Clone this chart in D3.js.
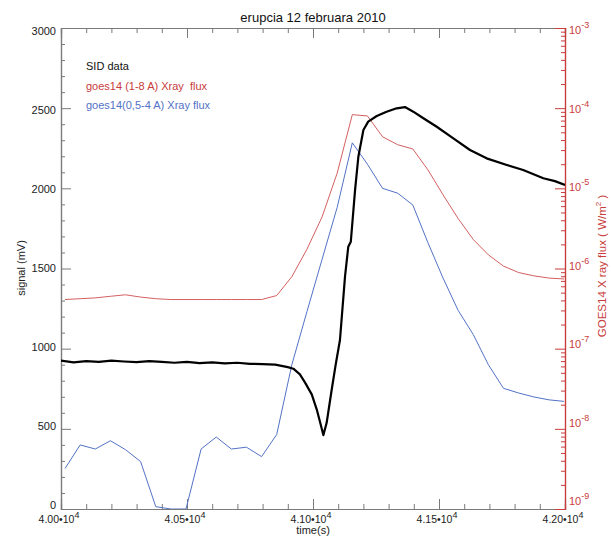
<!DOCTYPE html>
<html><head><meta charset="utf-8">
<script src="https://cdn.jsdelivr.net/npm/d3@7"></script>
<style>body{margin:0;background:#fff} text{font-family:"Liberation Sans",Arial,Helvetica,sans-serif}</style>
</head><body><svg id="c" width="611" height="536"></svg>
<script>
// ---- data ----
const goesTime = [40016,40076,40136,40196,40256,40316,40376,40436,40496,40556,40616,40676,40736,40796,40856,40916,40976,41036,41096,41156,41216,41276,41336,41396,41456,41516,41576,41636,41696,41756,41816,41876,41936,41996];
const goesLong = [4.1e-7,4.2e-7,4.3e-7,4.5e-7,4.7e-7,4.4e-7,4.2e-7,4.1e-7,4.1e-7,4.1e-7,4.1e-7,4.1e-7,4.1e-7,4.1e-7,4.6e-7,7.9e-7,1.74e-6,4.4e-6,1.55e-5,8.3e-5,8.0e-5,4.4e-5,3.5e-5,3.1e-5,1.7e-5,8.3e-6,4.2e-6,2.3e-6,1.48e-6,1.07e-6,8.9e-7,8.1e-7,7.6e-7,7.4e-7];
const goesShort = [3.2e-9,6.3e-9,5.6e-9,7.1e-9,5.5e-9,3.9e-9,1.07e-9,1.0e-9,1.0e-9,5.6e-9,7.9e-9,5.6e-9,5.9e-9,4.5e-9,8.5e-9,6.3e-8,2.9e-7,1.3e-6,5.8e-6,3.7e-5,2.0e-5,1.0e-5,8.7e-6,6.2e-6,2.1e-6,7.6e-7,3.0e-7,1.5e-7,6.3e-8,3.2e-8,2.8e-8,2.5e-8,2.3e-8,2.2e-8];
const sidTime = [40000,40050,40100,40150,40200,40250,40300,40350,40400,40450,40500,40550,40600,40650,40700,40750,40800,40850,40900,40922,40948,40968,40995,41015,41030,41041,41054,41074,41090,41107,41127,41140,41150,41167,41180,41200,41219,41253,41292,41332,41365,41398,41438,41491,41557,41623,41689,41769,41834,41914,41960,42000];
const sidSignal = [925,915,922,918,925,920,916,922,918,912,918,910,914,908,912,905,904,900,885,875,840,790,715,620,530,461,536,742,900,1054,1449,1636,1667,1990,2197,2364,2416,2451,2478,2499,2507,2478,2437,2384,2312,2239,2187,2146,2114,2063,2045,2021];
const xMajor = [40000,40500,41000,41500,42000];
const xMajorLabel = ["4.00","4.05","4.10","4.15","4.20"];
const yLeftMajor = [0,500,1000,1500,2000,2500,3000];
const yRightMajor = [1e-9,1e-8,1e-7,1e-6,1e-5,1e-4,1e-3];
const yRightExp = ["-9","-8","-7","-6","-5","-4","-3"];
const legendText = ["SID data","goes14 (1-8 A) Xray  flux","goes14(0,5-4 A) Xray flux"];

(function(){
const L=61,R=565,T=28,B=509;
const gray="#7a7a7a", red="#c83c3c", redLine="#d46060", blue="#5372c6";
const svg=d3.select("#c");
const x=d3.scaleLinear([40000,42000],[L,R]);
const yL=d3.scaleLinear([0,3000],[B,T]);
const yR=d3.scaleLog([1e-9,1e-3],[B,T]);

svg.append("defs").append("clipPath").attr("id","clip")
  .append("rect").attr("x",L).attr("y",T).attr("width",R-L).attr("height",B-T);

const xMinor=d3.range(40000,42001,100).filter(v=>v%500!==0);
const botAx=svg.append("g").attr("transform",`translate(0,${B})`);
botAx.append("g").call(d3.axisBottom(x).tickValues(xMajor).tickSize(-10).tickFormat(""));
botAx.append("g").call(d3.axisBottom(x).tickValues(xMinor).tickSize(-5).tickFormat(""));
botAx.selectAll("path,line").attr("stroke",gray);
const topAx=svg.append("g").attr("transform",`translate(0,${T})`);
topAx.append("g").call(d3.axisTop(x).tickValues(xMajor).tickSize(-10).tickFormat(""));
topAx.append("g").call(d3.axisTop(x).tickValues(xMinor).tickSize(-5).tickFormat(""));
topAx.selectAll("path,line").attr("stroke",gray);

const yMinor=d3.range(0,3001,100).filter(v=>v%500!==0);
const leftAx=svg.append("g").attr("transform",`translate(${L},0)`);
leftAx.append("g").call(d3.axisLeft(yL).tickValues(yLeftMajor).tickSize(-10).tickFormat(""));
leftAx.append("g").call(d3.axisLeft(yL).tickValues(yMinor).tickSize(-4).tickFormat(""));
leftAx.selectAll("path,line").attr("stroke",gray);

const rMinor=[];
yRightMajor.slice(0,-1).forEach(d=>{for(let k=2;k<10;k++)rMinor.push(d*k);});
const rightAx=svg.append("g").attr("transform",`translate(${R},0)`);
rightAx.append("g").call(d3.axisRight(yR).tickValues(yRightMajor).tickSize(-10).tickFormat(""));
rightAx.append("g").call(d3.axisRight(yR).tickValues(rMinor).tickSize(-4).tickFormat(""));
rightAx.selectAll("path,line").attr("stroke",red);
svg.selectAll(".domain").attr("stroke-width",1.2);

svg.append("g").selectAll("text").data(yLeftMajor).join("text")
  .attr("x",L-5).attr("y",d=>34.5+(yL(d)-T)*(474.5/481)).attr("text-anchor","end")
  .attr("font-size",11).attr("fill","#222").text(d=>d);

const xl=svg.append("g").selectAll("text").data(xMajor).join("text")
  .attr("x",d=>x(d)-2).attr("y",523).attr("text-anchor","middle")
  .attr("font-size",10.5).attr("fill","#222");
xl.append("tspan").text((d,i)=>xMajorLabel[i]+"\u2022"+"10");
xl.append("tspan").attr("dy",-5).attr("font-size",9).text("4");

const rl=svg.append("g").selectAll("text").data(yRightMajor).join("text")
  .attr("x",R+4).attr("y",d=>34+(yR(d)-T)*(471/481))
  .attr("font-size",11).attr("fill",red);
rl.append("tspan").text("10");
rl.append("tspan").attr("dy",-6).attr("font-size",9).text((d,i)=>yRightExp[i]);

svg.append("text").attr("x",313).attr("y",22).attr("text-anchor","middle")
  .attr("font-size",13).attr("fill","#111").text("erupcia 12 februara 2010");
svg.append("text").attr("x",313).attr("y",534).attr("text-anchor","middle")
  .attr("font-size",11).attr("fill","#222").text("time(s)");
svg.append("text").attr("transform","translate(25,268) rotate(-90)").attr("text-anchor","middle")
  .attr("font-size",11).attr("fill","#222").text("signal (mV)");
const rt=svg.append("text").attr("transform","translate(606,266) rotate(-90)").attr("text-anchor","middle")
  .attr("font-size",11.5).attr("fill",red);
rt.append("tspan").text("GOES14 X ray flux ( W/m");
rt.append("tspan").attr("dy",-5).attr("font-size",8).text("2");
rt.append("tspan").attr("dy",5).text(" )");

const legColors=["#111",red,blue];
svg.append("g").selectAll("text").data(legendText).join("text")
  .attr("x",86).attr("y",(d,i)=>70+i*19.5).attr("font-size",11)
  .attr("fill",(d,i)=>legColors[i]).attr("xml:space","preserve").text(d=>d);

const plot=svg.append("g").attr("clip-path","url(#clip)");
const lineR=d3.line().x(d=>x(d[0])).y(d=>yR(d[1]));
plot.append("path").datum(d3.zip(goesTime,goesLong)).attr("d",lineR)
  .attr("fill","none").attr("stroke",redLine).attr("stroke-width",1);
plot.append("path").datum(d3.zip(goesTime,goesShort)).attr("d",lineR)
  .attr("fill","none").attr("stroke",blue).attr("stroke-width",1);
const lineL=d3.line().x(d=>x(d[0])).y(d=>yL(d[1]));
plot.append("path").datum(d3.zip(sidTime,sidSignal)).attr("d",lineL)
  .attr("fill","none").attr("stroke","#000").attr("stroke-width",2.2).attr("stroke-linejoin","round");
})();
</script></body></html>
